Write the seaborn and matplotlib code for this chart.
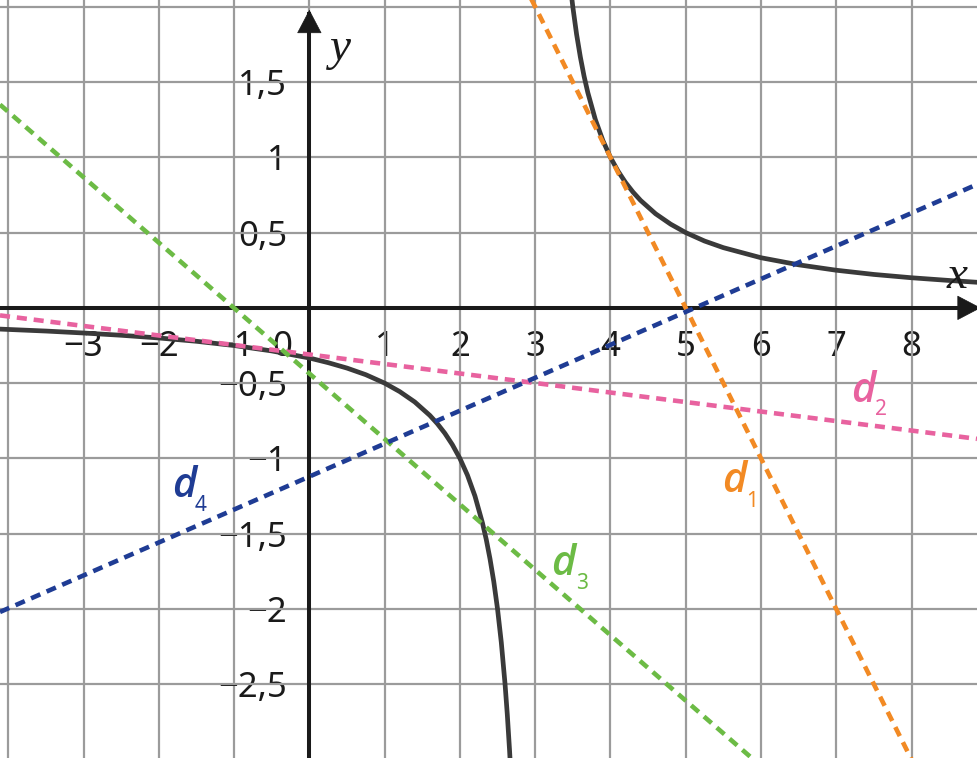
import matplotlib
matplotlib.use("Agg")
import matplotlib.pyplot as plt
from matplotlib.ticker import MultipleLocator
import seaborn as sns

# curve (two branches, asymptote near x = 3)
curve_left_x = [-4.11, -3.5, -3, -2.5, -2, -1.5, -1, -0.5, 0, 0.25, 0.5, 0.75,
                1, 1.2, 1.4, 1.6, 1.7, 1.8, 1.9, 2, 2.1, 2.2, 2.3, 2.35, 2.4,
                2.45, 2.5, 2.55, 2.6, 2.63, 2.66, 2.68]
curve_left_y = [-0.141, -0.154, -0.167, -0.182, -0.2, -0.222, -0.25, -0.286,
                -0.333, -0.364, -0.4, -0.444, -0.5, -0.556, -0.625, -0.714,
                -0.769, -0.833, -0.909, -1.0, -1.111, -1.25, -1.429, -1.538,
                -1.667, -1.818, -2.0, -2.222, -2.5, -2.703, -2.941, -3.125]
curve_right_x = [3.47, 3.5, 3.55, 3.6, 3.65, 3.7, 3.8, 3.9, 4, 4.1, 4.2, 4.3,
                 4.4, 4.6, 4.8, 5, 5.25, 5.5, 6, 6.5, 7, 7.5, 8, 8.5, 8.87]
curve_right_y = [2.128, 2.0, 1.818, 1.667, 1.538, 1.429, 1.25, 1.111, 1.0,
                 0.909, 0.833, 0.769, 0.714, 0.625, 0.556, 0.5, 0.444, 0.4,
                 0.333, 0.286, 0.25, 0.222, 0.2, 0.182, 0.17]

# the four dashed lines d1..d4 (end points)
d1_x = [2.9, 8.1]
d1_y = [2.1, -3.1]
d2_x = [-4.11, 8.87]
d2_y = [-0.05, -0.87]
d3_x = [-4.11, 5.9]
d3_y = [1.35, -3.0]
d4_x = [-4.11, 8.87]
d4_y = [-2.02, 0.82]

xtick_pos = [-3, -2, -1, 1, 2, 3, 4, 5, 6, 7, 8]
xtick_labels = ['\u22123', '\u22122', '\u22121', '1', '2', '3', '4', '5', '6', '7', '8']
ytick_pos = [1.5, 1, 0.5, -0.5, -1, -1.5, -2, -2.5]
ytick_labels = ['1,5', '1', '0,5', '\u22120,5', '\u22121', '\u22121,5', '\u22122', '\u22122,5']

c_orange = '#F28A24'
c_pink = '#E8629F'
c_green = '#6CBB45'
c_blue = '#1F3C94'
c_curve = '#3a3a3a'
c_axis = '#1a1a1a'
c_grid = '#9b9b9b'

sns.set_style("white")
plt.rcParams['font.family'] = ['Noto Sans', 'DejaVu Sans']

fig = plt.figure(figsize=(9.77, 7.58), dpi=100)
ax = fig.add_axes([0, 0, 1, 1])

ax.set_xlim(-4.11, 8.87)
ax.set_ylim(-2.99, 2.045)

# grid every 1 in x and 0.5 in y
ax.xaxis.set_minor_locator(MultipleLocator(1))
ax.yaxis.set_minor_locator(MultipleLocator(0.5))
ax.xaxis.remove_overlapping_locs = False
ax.yaxis.remove_overlapping_locs = False
ax.grid(which='minor', color=c_grid, lw=1.6)
ax.grid(which='major', visible=False)
ax.set_axisbelow(True)

# axes through the origin
for side in ['top', 'right']:
    ax.spines[side].set_visible(False)
ax.spines['left'].set_position(('data', 0))
ax.spines['bottom'].set_position(('data', 0))
ax.spines['left'].set_bounds(-2.99, 1.95)
ax.spines['bottom'].set_bounds(-4.11, 8.85)
for side in ['left', 'bottom']:
    ax.spines[side].set_linewidth(2.9)
    ax.spines[side].set_color(c_axis)

head = dict(arrowstyle='-|>,head_length=0.8,head_width=0.42', mutation_scale=20,
            color=c_axis, lw=0.5, shrinkA=0, shrinkB=0)
ax.annotate('', xy=(0, 1.98), xytext=(0, 1.75), arrowprops=head, annotation_clip=False)
ax.annotate('', xy=(8.92, 0), xytext=(8.5, 0), arrowprops=head, annotation_clip=False)

ax.set_xticks(xtick_pos, labels=xtick_labels)
ax.set_yticks(ytick_pos, labels=ytick_labels)
ax.tick_params(which='major', direction='inout', length=20, width=2.4,
               color=c_axis, labelcolor=c_axis, labelsize=25, pad=6)
ax.tick_params(which='minor', length=0)
ax.text(-0.36, -0.15, '0', ha='center', va='top', fontsize=25, color=c_axis)

# curve
sns.lineplot(x=curve_left_x, y=curve_left_y, ax=ax, color=c_curve, lw=3.4,
             errorbar=None, zorder=3)
sns.lineplot(x=curve_right_x, y=curve_right_y, ax=ax, color=c_curve, lw=3.4,
             errorbar=None, zorder=3)

# dashed lines
for lx, ly, col in [(d1_x, d1_y, c_orange), (d2_x, d2_y, c_pink),
                    (d3_x, d3_y, c_green), (d4_x, d4_y, c_blue)]:
    sns.lineplot(x=lx, y=ly, ax=ax, color=col, lw=3.3, errorbar=None,
                 linestyle=(0, (2.2, 1.5)), zorder=4)

ax.set_xlabel('')
ax.set_ylabel('')

# line names
names = [('1', 5.48, -1.22, 5.80, -1.32, c_orange),
         ('2', 7.20, -0.624, 7.52, -0.71, c_pink),
         ('3', 3.21, -1.773, 3.54, -1.87, c_green),
         ('4', -1.83, -1.255, -1.525, -1.352, c_blue)]
for sub, x0, y0, x1, y1, col in names:
    ax.text(x0, y0, 'd', ha='left', va='baseline', fontsize=30, style='italic',
            fontweight='semibold', family=['Open Sans', 'DejaVu Sans'],
            color=col, zorder=5)
    ax.text(x1, y1, sub, ha='left', va='baseline', fontsize=15, color=col, zorder=5)

# axis names
ax.text(8.60, 0.133, 'x', ha='center', va='baseline', fontsize=34, style='italic',
        family=['Liberation Serif', 'DejaVu Serif'], color=c_axis)
ax.text(0.41, 1.647, 'y', ha='center', va='baseline', fontsize=34, style='italic',
        family=['Liberation Serif', 'DejaVu Serif'], color=c_axis)

fig.savefig('out.png', dpi=100)
